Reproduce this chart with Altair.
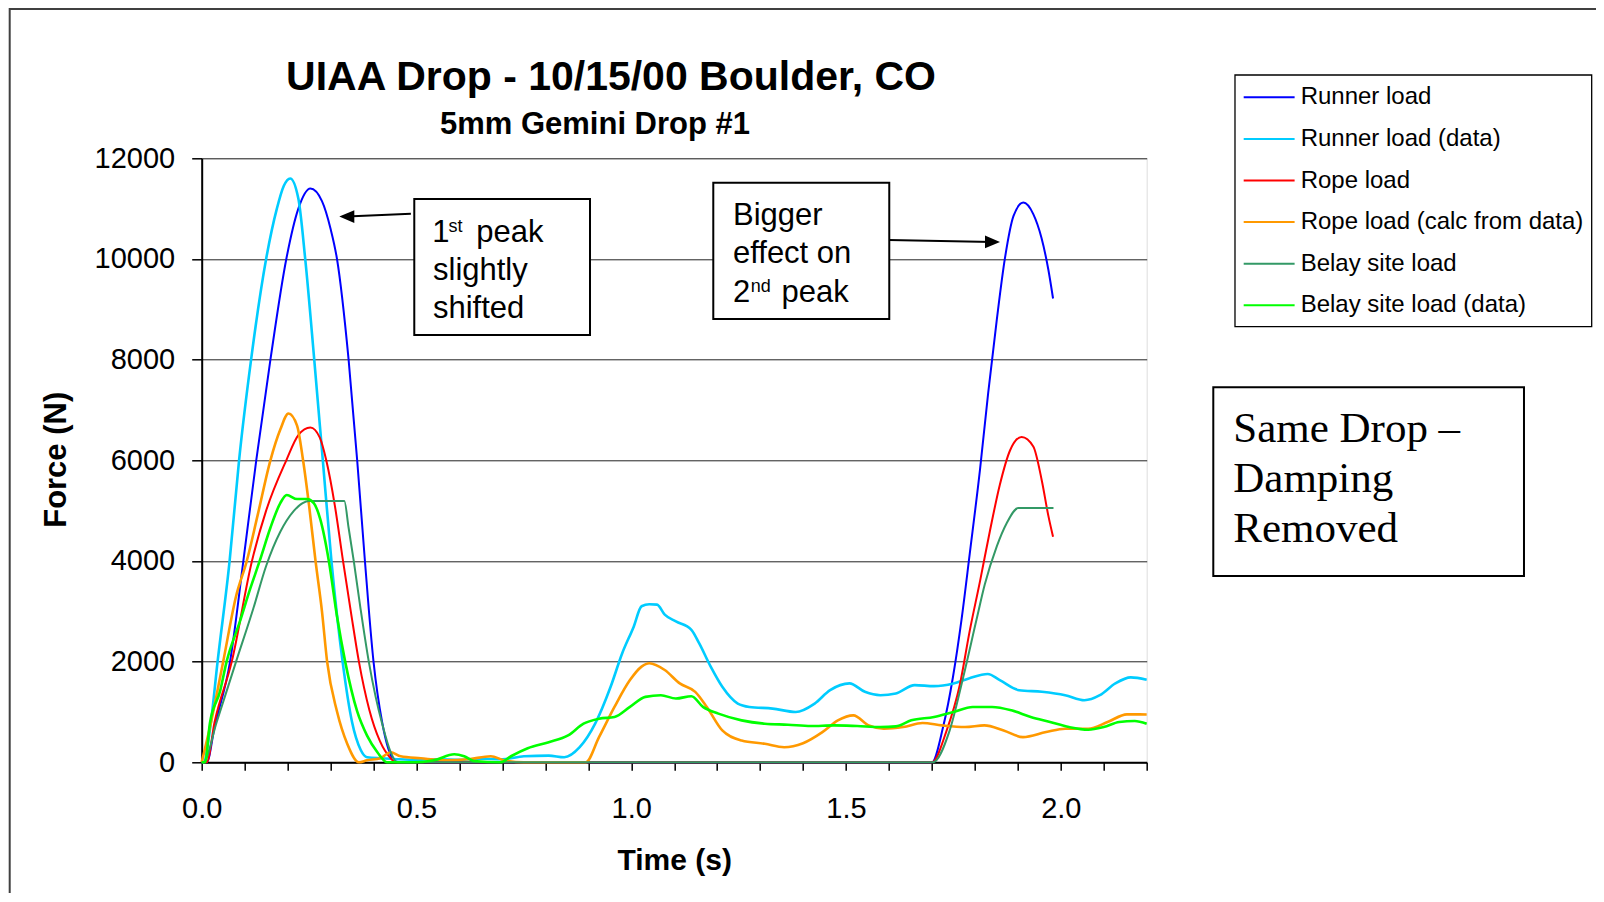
import altair as alt
import pandas as pd

# ---------------- data ----------------
SERIES_NAMES = ["Runner load", "Runner load (data)", "Rope load",
                "Rope load (calc from data)", "Belay site load", "Belay site load (data)"]
SERIES_COLORS = ["#0000FF", "#00CCFF", "#FF0000", "#FF9900", "#339966", "#00FF00"]
SERIES_KIND = ["model", "data", "model", "data", "model", "data"]

RUNNER_T = [0.0, 0.012, 0.03, 0.066, 0.097, 0.127, 0.16, 0.197, 0.225, 0.253, 0.28, 0.3,
            0.315, 0.342, 0.362, 0.38, 0.4, 0.42, 0.447, 0.46, 1.70, 1.726, 1.749, 1.769,
            1.788, 1.812, 1.831, 1.851, 1.87, 1.89, 1.913, 1.936, 1.955, 1.971, 1.982]
RUNNER_F = [0, 0, 700, 2000, 4000, 6000, 8000, 10000, 11000, 11400, 11150, 10600,
            10000, 8000, 6000, 4000, 2000, 800, 50, 0, 0, 700, 1695, 2840,
            4140, 5820, 7340, 8790, 10015, 10855, 11120, 10890, 10420, 9790, 9215]

RUNNER_DATA_T = [0.0, 0.004, 0.02, 0.037, 0.065, 0.087, 0.115, 0.15, 0.175, 0.191, 0.206,
                 0.225, 0.241, 0.262, 0.282, 0.302, 0.328, 0.35, 0.37, 0.385, 0.42, 0.46,
                 0.5, 0.55, 0.6, 0.65, 0.7, 0.75, 0.808, 0.844, 0.88, 0.916, 0.952, 0.979,
                 1.006, 1.024, 1.042, 1.06, 1.078, 1.104, 1.14, 1.158, 1.185, 1.212, 1.248,
                 1.275, 1.329, 1.383, 1.427, 1.463, 1.508, 1.544, 1.58, 1.616, 1.66, 1.705,
                 1.75, 1.786, 1.83, 1.858, 1.903, 1.956, 2.01, 2.055, 2.091, 2.127, 2.163, 2.2]
RUNNER_DATA_F = [0, 0, 700, 2000, 4000, 6000, 8000, 10000, 11000, 11450, 11600,
                 11200, 10000, 8000, 6000, 4000, 2000, 800, 250, 100, 80, 60,
                 50, 60, 50, 70, 60, 120, 133, 100, 300, 767, 1500, 2167,
                 2700, 3100, 3140, 3133, 2933, 2800, 2633, 2367, 1900, 1500, 1167,
                 1100, 1067, 1000, 1167, 1433, 1567, 1400, 1333, 1367, 1533, 1513,
                 1567, 1667, 1753, 1633, 1433, 1400, 1333, 1233, 1333, 1567, 1687, 1640]

ROPE_T = [0.0, 0.012, 0.03, 0.07, 0.117, 0.15, 0.197, 0.225, 0.253, 0.275, 0.29, 0.31,
          0.329, 0.348, 0.366, 0.39, 0.415, 0.44, 0.451, 1.70, 1.734, 1.765, 1.788,
          1.812, 1.835, 1.858, 1.882, 1.909, 1.936, 1.956, 1.971, 1.982]
ROPE_F = [0, 0, 800, 2000, 4000, 5000, 6000, 6500, 6650, 6450, 6000, 5100,
          4000, 2950, 2000, 1050, 420, 80, 0, 0, 625, 1540, 2610,
          3600, 4595, 5510, 6200, 6465, 6275, 5590, 4900, 4480]

ROPE_CALC_T = [0.0, 0.019, 0.05, 0.08, 0.105, 0.13, 0.16, 0.183, 0.202, 0.222, 0.236, 0.25,
               0.265, 0.28, 0.292, 0.315, 0.339, 0.366, 0.385, 0.416, 0.44, 0.463, 0.51,
               0.572, 0.62, 0.673, 0.704, 0.75, 0.894, 0.925, 0.961, 0.997, 1.024, 1.042,
               1.078, 1.113, 1.149, 1.176, 1.212, 1.257, 1.311, 1.356, 1.4, 1.445, 1.481,
               1.517, 1.553, 1.588, 1.633, 1.678, 1.723, 1.777, 1.822, 1.867, 1.912, 1.966,
               2.01, 2.064, 2.109, 2.154, 2.2]
ROPE_CALC_F = [0, 690, 2000, 3300, 4000, 4900, 6000, 6610, 6930, 6690, 6000, 5100,
               4000, 3000, 2000, 1010, 365, 0, 40, 80, 200, 120, 80,
               40, 60, 120, 40, 0, 0, 500, 1100, 1633, 1900, 1967,
               1833, 1567, 1400, 1100, 633, 433, 367, 300, 380, 600, 833,
               933, 733, 667, 700, 780, 733, 700, 733, 633, 500, 600,
               667, 667, 800, 953, 950]

BELAY_T = [0.0, 0.004, 0.035, 0.08, 0.12, 0.15, 0.183, 0.214, 0.235, 0.25, 0.332, 0.342,
           0.354, 0.37, 0.389, 0.405, 0.42, 0.44, 0.455, 1.702, 1.741, 1.773, 1.804,
           1.823, 1.851, 1.874, 1.901, 1.983]
BELAY_F = [0, 0, 800, 2000, 3050, 3900, 4580, 4990, 5150, 5190, 5190, 4660,
           4000, 3040, 2000, 1300, 770, 200, 0, 0, 625, 1695, 2840,
           3530, 4290, 4750, 5050, 5050]

BELAY_DATA_T = [0.0, 0.008, 0.019, 0.043, 0.058, 0.089, 0.113, 0.135, 0.16, 0.183, 0.198,
                0.222, 0.245, 0.261, 0.276, 0.296, 0.315, 0.334, 0.362, 0.385, 0.409, 0.432,
                0.494, 0.541, 0.588, 0.611, 0.634, 0.696, 0.72, 0.759, 0.808, 0.853, 0.889,
                0.925, 0.961, 0.997, 1.033, 1.069, 1.104, 1.14, 1.167, 1.203, 1.257, 1.311,
                1.365, 1.418, 1.472, 1.526, 1.58, 1.616, 1.652, 1.705, 1.75, 1.795, 1.84,
                1.885, 1.93, 1.975, 2.019, 2.064, 2.1, 2.136, 2.172, 2.2]
BELAY_DATA_F = [0, 0, 770, 1420, 2000, 2800, 3450, 4000, 4660, 5150, 5310,
                5230, 5230, 5150, 4830, 4000, 2900, 2000, 1010, 530, 200, 0,
                0, 40, 160, 120, 25, 0, 120, 280, 400, 533, 767,
                867, 900, 1100, 1300, 1333, 1267, 1313, 1100, 967, 833, 767,
                747, 720, 733, 720, 700, 713, 833, 900, 1000, 1100, 1100,
                1033, 900, 800, 700, 647, 700, 800, 820, 767]

X_TICKS = [0.0, 0.1, 0.2, 0.3, 0.4, 0.5, 0.6, 0.7, 0.8, 0.9, 1.0, 1.1, 1.2,
           1.3, 1.4, 1.5, 1.6, 1.7, 1.8, 1.9, 2.0, 2.1, 2.2]
Y_TICKS = [0, 2000, 4000, 6000, 8000, 10000, 12000]

TITLE = "UIAA Drop - 10/15/00 Boulder, CO"
SUBTITLE = "5mm Gemini Drop #1"

# annotation boxes inside the plot (data coordinates)
BOX_T1 = [0.4949, 1.1910]
BOX_T2 = [0.9040, 1.6007]
BOX_F1 = [11191, 11515]
BOX_F2 = [8489, 8807]

NOTE_TEXT = ["1", "st", "peak", "slightly", "shifted",
             "Bigger", "effect on", "2", "nd", "peak"]
NOTE_T = [0.5368, 0.5745, 0.6393, 0.5385, 0.5385,
          1.2369, 1.2369, 1.2369, 1.2783, 1.3500]
NOTE_F = [10343, 10542, 10343, 9582, 8821,
          10675, 9914, 9151, 9344, 9151]
NOTE_SIZE = [31, 18, 31, 31, 31, 31, 31, 31, 18, 31]

ARROW_T1 = [0.4870, 1.6001]
ARROW_F1 = [10900, 10377]
ARROW_T2 = [0.3378, 1.8410]
ARROW_F2 = [10842, 10338]
ARROW_ANGLE = [0, 180]

SIDE_NOTE = ["Same Drop \u2013", "Damping", "Removed"]

# ---------------- build tables ----------------
series_values = [
    (RUNNER_T, RUNNER_F), (RUNNER_DATA_T, RUNNER_DATA_F), (ROPE_T, ROPE_F),
    (ROPE_CALC_T, ROPE_CALC_F), (BELAY_T, BELAY_F), (BELAY_DATA_T, BELAY_DATA_F),
]
rows = []
for name, kind, (ts, fs) in zip(SERIES_NAMES, SERIES_KIND, series_values):
    for i, (t, f) in enumerate(zip(ts, fs)):
        rows.append({"series": name, "kind": kind, "t": t, "F": f, "i": i})
df = pd.DataFrame(rows)

boxes = pd.DataFrame({"t1": BOX_T1, "t2": BOX_T2, "f1": BOX_F1, "f2": BOX_F2})
notes = pd.DataFrame({"txt": NOTE_TEXT, "t": NOTE_T, "F": NOTE_F, "fs": NOTE_SIZE})
arrows = pd.DataFrame({"t1": ARROW_T1, "f1": ARROW_F1, "t2": ARROW_T2, "f2": ARROW_F2,
                       "ang": ARROW_ANGLE})
one = pd.DataFrame({"k": [0]})

SANS = "Liberation Sans"
SERIF = "Liberation Serif"

xscale = alt.Scale(domain=[0, 2.2], nice=False, zero=False)
yscale = alt.Scale(domain=[0, 12000], nice=False)

lines = alt.Chart(df).mark_line(interpolate="monotone").encode(
    x=alt.X("t:Q", scale=xscale,
            axis=alt.Axis(values=X_TICKS, title="Time (s)",
                          labelExpr="abs(datum.value*2 - round(datum.value*2)) < 0.001 ? format(datum.value, '.1f') : ''",
                          labelFont=SANS, labelFontSize=29, labelColor="#000000",
                          labelBaseline="alphabetic", labelPadding=47, labelFlush=False,
                          tickSize=8, tickColor="#000000", tickWidth=1.5,
                          domainColor="#000000", domainWidth=2, grid=False,
                          titleFont=SANS, titleFontSize=30, titleFontWeight="bold",
                          titleColor="#000000", titleBaseline="alphabetic",
                          titleX=472.5, titleY=107)),
    y=alt.Y("F:Q", scale=yscale,
            axis=alt.Axis(values=Y_TICKS, title="Force (N)", format="d",
                          labelFont=SANS, labelFontSize=29, labelColor="#000000",
                          labelPadding=17, tickSize=10, tickColor="#000000", tickWidth=1.5,
                          domainColor="#000000", domainWidth=2,
                          grid=True, gridColor="#222222", gridWidth=1,
                          titleFont=SANS, titleFontSize=31, titleFontWeight="bold",
                          titleColor="#000000", titleAngle=270, titleAlign="center",
                          titleBaseline="alphabetic", titleX=-136, titleY=301)),
    color=alt.Color("series:N", sort=SERIES_NAMES,
                    scale=alt.Scale(domain=SERIES_NAMES, range=SERIES_COLORS),
                    legend=alt.Legend(title=None, orient="none", legendX=1041, legendY=-81,
                                      symbolType="M -1,0 L 1.68,0", symbolSize=1444,
                                      symbolStrokeWidth=2, labelFont=SANS, labelFontSize=24,
                                      labelColor="#000000", labelOffset=18, rowPadding=9.6,
                                      padding=0, labelLimit=400)),
    strokeWidth=alt.StrokeWidth("kind:N", scale=alt.Scale(domain=["model", "data"], range=[2, 2.6]),
                                legend=None),
    order=alt.Order("i:Q"),
)

box_layer = alt.Chart(boxes).mark_rect(fill="#FFFFFF", stroke="#000000", strokeWidth=2).encode(
    x=alt.X("t1:Q", scale=xscale), x2="t2:Q",
    y=alt.Y("f1:Q", scale=yscale), y2="f2:Q")

note_layer = alt.Chart(notes).mark_text(align="left", baseline="alphabetic", font=SANS,
                                        color="#000000").encode(
    x=alt.X("t:Q", scale=xscale), y=alt.Y("F:Q", scale=yscale),
    text="txt:N", size=alt.Size("fs:Q", scale=None, legend=None))

arrow_lines = alt.Chart(arrows).mark_rule(color="#000000", strokeWidth=2).encode(
    x=alt.X("t1:Q", scale=xscale), x2="t2:Q",
    y=alt.Y("f1:Q", scale=yscale), y2="f2:Q")

arrow_heads = alt.Chart(arrows).mark_point(shape="M -1,0 L 1,-0.85 L 1,0.85 Z", filled=True,
                                          color="#000000", opacity=1, size=225).encode(
    x=alt.X("t2:Q", scale=xscale), y=alt.Y("f2:Q", scale=yscale),
    angle=alt.Angle("ang:Q", scale=None))

# chart frame, legend frame, side note and titles (pixel positions relative to the plot)
frame_left = alt.Chart(one).mark_rule(color="#404040", strokeWidth=2).encode(
    x=alt.value(-192), y=alt.value(-151), y2=alt.value(760))
frame_top = alt.Chart(one).mark_rule(color="#404040", strokeWidth=2).encode(
    x=alt.value(-192), x2=alt.value(1420), y=alt.value(-149.3))

legend_box = alt.Chart(one).mark_rect(fill="#FFFFFF", fillOpacity=0, stroke="#000000",
                                      strokeWidth=1.3).encode(
    x=alt.value(1033.3), x2=alt.value(1390), y=alt.value(-83.3), y2=alt.value(168.4))

side_box = alt.Chart(one).mark_rect(fill="#FFFFFF", stroke="#000000", strokeWidth=2).encode(
    x=alt.value(1011.6), x2=alt.value(1322.3), y=alt.value(229), y2=alt.value(417.7))
side_text = alt.Chart(one).mark_text(align="left", baseline="alphabetic", font=SERIF,
                                     fontSize=43, lineHeight=50, color="#000000").encode(
    x=alt.value(1031.6), y=alt.value(283.4), text=alt.value(SIDE_NOTE))

title_text = alt.Chart(one).mark_text(align="center", baseline="alphabetic", font=SANS,
                                      fontSize=41, fontWeight="bold", color="#000000").encode(
    x=alt.value(409.3), y=alt.value(-68.3), text=alt.value(TITLE))
subtitle_text = alt.Chart(one).mark_text(align="center", baseline="alphabetic", font=SANS,
                                         fontSize=31, fontWeight="bold", color="#000000").encode(
    x=alt.value(393.3), y=alt.value(-24.3), text=alt.value(SUBTITLE))

chart = alt.layer(
    lines, box_layer, note_layer, arrow_lines, arrow_heads,
    frame_left, frame_top, legend_box, side_box, side_text, title_text, subtitle_text,
).properties(
    width=945, height=604,
    padding={"left": 193.7, "top": 150.3, "right": 449, "bottom": 131},
    autosize=alt.AutoSizeParams(type="none"),
).configure_view(
    fill="#C0C0C0", stroke="#808080", strokeWidth=1.5,
).configure(background="#FFFFFF")

chart.save("out.html", embed_options={"renderer": "svg", "actions": False})
